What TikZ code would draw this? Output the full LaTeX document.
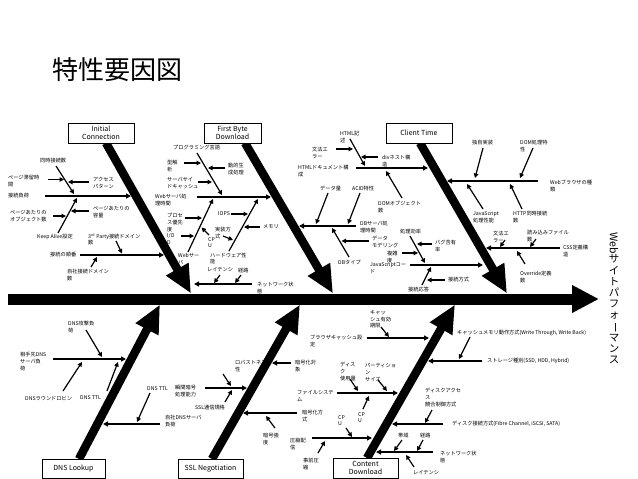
\documentclass[tikz,border=0pt]{standalone}
\usepackage{fontspec}
\setmainfont{Noto Sans CJK JP}
\usepackage{graphicx}
\usetikzlibrary{arrows.meta}
\begin{document}
\begin{tikzpicture}[x=1pt,y=-1pt,
  lbl/.style={font=\fontsize{5.2}{6.8}\selectfont, inner sep=0pt, align=left, anchor=north west},
  lblw/.style={lbl, anchor=west},
  hbox/.style={draw, fill=white, line width=0.9pt, minimum height=20pt, inner sep=1pt, font=\fontsize{7}{8.4}\selectfont, align=center},
  bone/.style={line width=8.5pt, -{Triangle[length=28pt,width=24pt]}},
  sub/.style={line width=1.8pt, -{Triangle[length=5pt,width=5pt]}},
  arr/.style={line width=1.2pt, -{Triangle[length=4.5pt,width=4.5pt]}},
]
\useasboundingbox (0,0) rectangle (638,479);
\fill[white] (0,0) rectangle (638,479);

% title
\node[font=\fontsize{26}{30}\selectfont, anchor=west, inner sep=0pt] (title) at (52,70) {特性要因図};

% spine
\coordinate (sp0) at (8,299); \coordinate (spTip) at (599,299);
\draw[line width=11pt, -{Triangle[length=27pt,width=26pt]}] (sp0) -- (spTip);
\node[font=\fontsize{10.5}{11.2}\selectfont, align=center, inner sep=0pt] (perf) at (614,298)
  {\rotatebox[origin=c]{-90}{Web}\\サ\\イ\\ト\\パ\\フ\\ォ\\\rotatebox[origin=c]{-90}{ー}\\マ\\ン\\ス};

% main bones
\coordinate (icTop) at (106,143); \coordinate (icTip) at (191,293.5);
\coordinate (fbTop) at (245,143); \coordinate (fbTip) at (333,293.5);
\coordinate (ctTop) at (420,143); \coordinate (ctTip) at (507,293.5);
\coordinate (dnsBot) at (79,459); \coordinate (dnsTip) at (160,304.5);
\coordinate (sslBot) at (212,459); \coordinate (sslTip) at (300,304.5);
\coordinate (cdBot) at (367,458); \coordinate (cdTip) at (455,304.5);
\draw[bone] (icTop) -- (icTip);
\draw[bone] (fbTop) -- (fbTip);
\draw[bone] (ctTop) -- (ctTip);
\draw[bone] (dnsBot) -- (dnsTip);
\draw[bone] (sslBot) -- (sslTip);
\draw[bone] (cdBot) -- (cdTip);

% category boxes
\node[hbox, minimum width=66pt] (ic) at (101,133) {Initial\\Connection};
\node[hbox, minimum width=57pt] (fb) at (232.5,133) {First Byte\\Download};
\node[hbox, minimum width=66pt] (ct) at (419,133) {Client Time};
\node[hbox, minimum width=63pt, minimum height=19pt] (dns) at (73.5,468.5) {DNS Lookup};
\node[hbox, minimum width=65pt, minimum height=19pt] (ssl) at (210.5,468.5) {SSL Negotiation};
\node[hbox, minimum width=65pt, minimum height=20pt] (cd) at (365.5,468) {Content\\Download};

% ===== Initial Connection =====
\node[lblw] (lsf) at (8,196) {接続負荷};
\coordinate (h1s) at (45,196); \coordinate (h1e) at (131,196);
\draw[sub] (h1s) -- (h1e);
\node[lbl] (ldj) at (40,158) {同時接続数};
\coordinate (a1s) at (56,166); \coordinate (a1e) at (74,194);
\draw[arr] (a1s) -- (a1e);
\node[lbl] (lpt) at (8,175) {ページ滞留時\\間};
\coordinate (a2s) at (48,179.5); \coordinate (a2e) at (64,179.5);
\draw[arr] (a2s) -- (a2e);
\node[lbl] (lap) at (93,177) {アクセス\\パターン};
\coordinate (a3s) at (89,182); \coordinate (a3e) at (68,182);
\draw[arr] (a3s) -- (a3e);
\node[lblw] (lka) at (37,237) {Keep Alive設定};
\coordinate (a4s) at (58,233); \coordinate (a4e) at (77,198);
\draw[arr] (a4s) -- (a4e);
\node[lbl] (lpo) at (10,210) {ページあたりの\\オブジェクト数};
\coordinate (a5s) at (53,216); \coordinate (a5e) at (66,216);
\draw[arr] (a5s) -- (a5e);
\node[lbl] (lpv) at (93,206) {ページあたりの\\容量};
\coordinate (a6s) at (89,211); \coordinate (a6e) at (71,211);
\draw[arr] (a6s) -- (a6e);
\node[lblw] (ljb) at (50,255) {接続の順番};
\coordinate (h2s) at (80,255); \coordinate (h2e) at (164,255);
\draw[sub] (h2s) -- (h2e);
\node[lbl] (l3p) at (88,233) {3\textsuperscript{rd} Party接続ドメイン\\数};
\coordinate (a7s) at (116,241); \coordinate (a7e) at (122,253.5);
\draw[arr] (a7s) -- (a7e);
\node[lbl] (ljs) at (67,269) {自社接続ドメイン\\数};
\coordinate (a8s) at (91,267); \coordinate (a8e) at (97,257);
\draw[arr] (a8s) -- (a8e);

% ===== First Byte Download =====
\node[lbl] (lws) at (155,194) {Webサーバ処\\理時間};
\coordinate (h3s) at (197,197); \coordinate (h3e) at (271,197);
\draw[sub] (h3s) -- (h3e);
\node[lbl] (lpl) at (173,145) {プログラミング言語};
\coordinate (g1s) at (197,153); \coordinate (g1e) at (222,195);
\draw[arr] (g1s) -- (g1e);
\node[lbl] (lkk) at (167,160) {型解\\析};
\coordinate (a9s) at (184,163); \coordinate (a9e) at (201,163);
\draw[arr] (a9s) -- (a9e);
\node[lbl] (ldt) at (228,163) {動的生\\成処理};
\coordinate (a10s) at (225,168); \coordinate (a10e) at (208,168);
\draw[arr] (a10s) -- (a10e);
\node[lbl] (lsc) at (167,177) {サーバサイ\\ドキャッシュ};
\coordinate (a11s) at (198,182); \coordinate (a11e) at (212,182);
\draw[arr] (a11s) -- (a11e);

\coordinate (d1s) at (188,252); \coordinate (d1e) at (213,199);
\draw[arr] (d1s) -- (d1e);
\node[lbl] (lws2) at (178,253) {Webサー\\バ};
\node[lbl] (lpp) at (167,213) {プロセ\\ス優先\\度};
\coordinate (a12s) at (185,218); \coordinate (a12e) at (202,218);
\draw[arr] (a12s) -- (a12e);
\node[lbl] (lio) at (167,233) {I/O\\D};
\coordinate (a13s) at (181,236); \coordinate (a13e) at (194,236);
\draw[arr] (a13s) -- (a13e);
\node[lbl] (lcpu1) at (208,237) {CP\\U};
\coordinate (a14s) at (209,235); \coordinate (a14e) at (201.5,227.5);
\draw[arr] (a14s) -- (a14e);

\coordinate (d2s) at (229,251); \coordinate (d2e) at (258,199);
\draw[arr] (d2s) -- (d2e);
\node[lbl, font=\fontsize{5.2}{6.2}\selectfont] (lhw) at (210,253) {ハードウェア性\\能};
\node[lblw] (liops) at (218,214) {IOPS};
\coordinate (a15s) at (231,214); \coordinate (a15e) at (248,214);
\draw[arr] (a15s) -- (a15e);
\node[lblw] (lmem) at (263,227) {メモリ};
\coordinate (a16s) at (260,227); \coordinate (a16e) at (244,227);
\draw[arr] (a16s) -- (a16e);
\node[lbl] (ljh) at (215,227) {実装方\\式};
\coordinate (a17s) at (223,236); \coordinate (a17e) at (233,240);
\draw[arr] (a17s) -- (a17e);

\node[lbl] (lnw1) at (257,282) {ネットワーク状\\態};
\coordinate (h4s) at (252,284); \coordinate (h4e) at (194,284);
\draw[sub] (h4s) -- (h4e);
\node[lbl] (llt1) at (207,267.5) {レイテンシ};
\coordinate (a18s) at (220,275); \coordinate (a18e) at (214,283);
\draw[arr] (a18s) -- (a18e);
\node[lbl] (lkr1) at (238,267.5) {経路};
\coordinate (a19s) at (241,275); \coordinate (a19e) at (235,283);
\draw[arr] (a19s) -- (a19e);

\node[lbl] (ldb) at (360,221) {DBサーバ処\\理時間};
\coordinate (h5s) at (356,226); \coordinate (h5e) at (299,226);
\draw[sub] (h5s) -- (h5e);
\node[lbl] (ldq) at (320,186) {データ量};
\coordinate (a20s) at (328,193); \coordinate (a20e) at (316,224);
\draw[arr] (a20s) -- (a20e);
\node[lbl] (lacid) at (352,186) {ACID特性};
\coordinate (a21s) at (360,193); \coordinate (a21e) at (348,224);
\draw[arr] (a21s) -- (a21e);
\node[lbl] (ldbt) at (338,260) {DBタイプ};
\coordinate (a22s) at (349,257); \coordinate (a22e) at (332,228);
\draw[arr] (a22s) -- (a22e);
\node[lbl] (ldm) at (372,236) {データ\\モデリング};
\coordinate (a23s) at (369,241); \coordinate (a23e) at (341.5,241);
\draw[arr] (a23s) -- (a23e);

% ===== Client Time =====
\node[lbl] (lhtml) at (298,165) {HTMLドキュメント構\\成};
\coordinate (h6s) at (356,168); \coordinate (h6e) at (428,168);
\draw[sub] (h6s) -- (h6e);
\node[lbl] (lhk) at (340,131) {HTML記\\述};
\coordinate (a24s) at (350,139); \coordinate (a24e) at (365,166);
\draw[arr] (a24s) -- (a24e);
\node[lbl] (lbp1) at (312,147) {文法エ\\ラー};
\coordinate (a25s) at (336,149); \coordinate (a25e) at (353,149);
\draw[arr] (a25s) -- (a25e);
\node[lbl] (ldiv) at (382,155) {divネスト構\\造};
\coordinate (a26s) at (378,157); \coordinate (a26e) at (361,157);
\draw[arr] (a26s) -- (a26e);
\node[lbl] (ldom) at (378,201) {DOMオブジェクト\\数};
\coordinate (a27s) at (402,198); \coordinate (a27e) at (386,171);
\draw[arr] (a27s) -- (a27e);

\node[lbl] (ljsc) at (370,262) {JavaScriptコー\\ド};
\coordinate (h7s) at (410,265); \coordinate (h7e) at (483,265);
\draw[sub] (h7s) -- (h7e);
\node[lbl] (lsk) at (400,229) {処理効率};
\coordinate (a28s) at (410,236); \coordinate (a28e) at (425,263);
\draw[arr] (a28s) -- (a28e);
\node[lbl] (lbug) at (435,240) {バグ含有\\率};
\coordinate (a29s) at (432,244); \coordinate (a29e) at (417,244);
\draw[arr] (a29s) -- (a29e);
\node[lbl] (lfz) at (387,251) {複雑\\度};
\coordinate (a30s) at (402,253); \coordinate (a30e) at (418,253);
\draw[arr] (a30s) -- (a30e);
\node[lbl] (lso) at (408,287) {接続応答};
\coordinate (a31s) at (422,285); \coordinate (a31e) at (431,267);
\draw[arr] (a31s) -- (a31e);
\node[lbl] (lsh) at (448,277) {接続方式};
\coordinate (a32s) at (445,280); \coordinate (a32e) at (427,280);
\draw[arr] (a32s) -- (a32e);

\node[lbl] (lwb) at (550,180) {Webブラウザの種\\類};
\coordinate (h8s) at (538,181); \coordinate (h8e) at (447,181);
\draw[sub] (h8s) -- (h8e);
\node[lbl] (ldk) at (472,140) {独自実装};
\coordinate (a33s) at (483,148); \coordinate (a33e) at (475,178);
\draw[arr] (a33s) -- (a33e);
\node[lbl] (ldomp) at (520,140) {DOM処理特\\性};
\coordinate (a34s) at (533,148); \coordinate (a34e) at (520,178);
\draw[arr] (a34s) -- (a34e);
\node[lbl] (ljsp) at (473,211) {JavaScript\\処理性能};
\coordinate (a35s) at (483,209); \coordinate (a35e) at (467,184);
\draw[arr] (a35s) -- (a35e);
\node[lbl] (lhttp) at (513,211) {HTTP同時接続\\数};
\coordinate (a36s) at (522,209); \coordinate (a36e) at (510,184);
\draw[arr] (a36s) -- (a36e);

\node[lbl] (lcss) at (563,245) {CSS定義構\\造};
\coordinate (h9s) at (560,248); \coordinate (h9e) at (486,248);
\draw[sub] (h9s) -- (h9e);
\node[lbl] (lbp2) at (493,231) {文法エ\\ラー};
\coordinate (a37s) at (505,240); \coordinate (a37e) at (500,247);
\draw[arr] (a37s) -- (a37e);
\node[lbl] (lyf) at (527,230) {読み込みファイル\\数};
\coordinate (a38s) at (536,239); \coordinate (a38e) at (530,247);
\draw[arr] (a38s) -- (a38e);
\node[lbl] (lod) at (520,271) {Override定義\\数};
\coordinate (a39s) at (525,264); \coordinate (a39e) at (517,251);
\draw[arr] (a39s) -- (a39e);

% ===== DNS Lookup =====
\node[lbl] (laite) at (20,352) {相手先DNS\\サーバ負\\荷};
\coordinate (h10s) at (53,359); \coordinate (h10e) at (126,359);
\draw[sub] (h10s) -- (h10e);
\node[lbl] (ldnsa) at (68,321) {DNS攻撃負\\荷};
\coordinate (a40s) at (86,330); \coordinate (a40e) at (102,357);
\draw[arr] (a40s) -- (a40e);
\node[lblw] (ldrr) at (25,398) {DNSラウンドロビン};
\coordinate (a41s) at (63,391); \coordinate (a41e) at (82,362);
\draw[arr] (a41s) -- (a41e);
\node[lblw] (lttl1) at (80,398) {DNS TTL};
\coordinate (a42s) at (107,391); \coordinate (a42e) at (118,362);
\draw[arr] (a42s) -- (a42e);
\node[lblw] (lttl2) at (147,389) {DNS TTL};
\coordinate (a43s) at (150,393); \coordinate (a43e) at (137,422);
\draw[arr] (a43s) -- (a43e);
\node[lbl] (ljdns) at (165,415) {自社DNSサーバ\\負荷};
\coordinate (h11s) at (160,424); \coordinate (h11e) at (103,424);
\draw[sub] (h11s) -- (h11e);

% ===== SSL Negotiation =====
\node[lbl] (lsk2) at (175,385) {瞬間暗号\\処理能力};
\coordinate (h12s) at (205,388); \coordinate (h12e) at (247,388);
\draw[sub] (h12s) -- (h12e);
\node[lbl] (lrb) at (235,360) {ロバストネス\\性};
\coordinate (a44s) at (223,374); \coordinate (a44e) at (231,386);
\draw[arr] (a44s) -- (a44e);
\node[lbl] (lssl) at (195,405) {SSL通信規格};
\coordinate (a45s) at (225,402); \coordinate (a45e) at (232,390);
\draw[arr] (a45s) -- (a45e);
\node[lbl] (lango) at (295,360) {暗号化対\\象};
\coordinate (a46s) at (291,363); \coordinate (a46e) at (272,363);
\draw[sub] (a46s) -- (a46e);
\node[lbl] (langh) at (302,410) {暗号化方\\式};
\coordinate (h13s) at (297,413); \coordinate (h13e) at (243,413);
\draw[sub] (h13s) -- (h13e);
\node[lbl] (langk) at (263,433) {暗号強\\度};
\coordinate (a47s) at (275,428); \coordinate (a47e) at (266,416);
\draw[arr] (a47s) -- (a47e);

% ===== Content Download =====
\node[lbl] (lbc) at (310,335) {ブラウザキャッシュ設\\定};
\coordinate (h14s) at (367,338); \coordinate (h14e) at (429,338);
\draw[sub] (h14s) -- (h14e);
\node[lbl] (lce) at (370,310) {キャッ\\シュ有効\\期限};
\coordinate (a48s) at (381,327); \coordinate (a48e) at (389,337);
\draw[arr] (a48s) -- (a48e);
\node[lblw] (lst) at (487,361) {ストレージ種別(SSD, HDD, Hybrid)};
\coordinate (h15s) at (482,361); \coordinate (h15e) at (428,361);
\draw[sub] (h15s) -- (h15e);
\node[lblw] (lcm) at (457,333) {キャッシュメモリ動作方式(Write Through, Write Back)};
\coordinate (a49s) at (470,337); \coordinate (a49e) at (459,359);
\draw[arr] (a49s) -- (a49e);
\node[lbl] (lfs) at (297,390) {ファイルシステ\\ム};
\coordinate (h16s) at (337,393); \coordinate (h16e) at (398,393);
\draw[sub] (h16s) -- (h16e);
\node[lbl] (ldu) at (340,362) {ディス\\ク\\使用量};
\coordinate (a50s) at (350,379); \coordinate (a50e) at (358,391);
\draw[arr] (a50s) -- (a50e);
\node[lbl] (lps) at (365,363) {パーティショ\\ン\\サイズ};
\coordinate (a51s) at (378,380); \coordinate (a51e) at (387,391);
\draw[arr] (a51s) -- (a51e);
\node[lbl] (lcpu2) at (358,412) {CP\\U};
\coordinate (a52s) at (363,409); \coordinate (a52e) at (369,396);
\draw[arr] (a52s) -- (a52e);
\node[lbl] (lah) at (290,438) {圧縮配\\信};
\coordinate (h17s) at (312,438); \coordinate (h17e) at (372,438);
\draw[sub] (h17s) -- (h17e);
\node[lbl] (lcpu3) at (338,415) {CP\\U};
\coordinate (a53s) at (346,428); \coordinate (a53e) at (352,437);
\draw[arr] (a53s) -- (a53e);
\node[lbl] (ljz) at (303,458) {事前圧\\縮};
\coordinate (a54s) at (318,453); \coordinate (a54e) at (325,441);
\draw[arr] (a54s) -- (a54e);
\node[lbl] (lda) at (425,388) {ディスクアクセ\\ス\\競合制御方式};
\coordinate (a55s) at (432,410); \coordinate (a55e) at (425,423);
\draw[arr] (a55s) -- (a55e);
\node[lblw] (ldc) at (452,424) {ディスク接続方式(Fibre Channel, iSCSI, SATA)};
\coordinate (h18s) at (443,424); \coordinate (h18e) at (392,424);
\draw[sub] (h18s) -- (h18e);
\node[lbl] (lnw2) at (440,451) {ネットワーク状\\態};
\coordinate (h19s) at (433,452); \coordinate (h19e) at (376,452);
\draw[sub] (h19s) -- (h19e);
\node[lbl] (lbw) at (398,433) {帯域};
\coordinate (a56s) at (402,440); \coordinate (a56e) at (394,451);
\draw[arr] (a56s) -- (a56e);
\node[lbl] (lkr2) at (420,433) {経路};
\coordinate (a57s) at (423,440); \coordinate (a57e) at (417,451);
\draw[arr] (a57s) -- (a57e);
\node[lbl] (llt2) at (413,470) {レイテンシ};
\coordinate (a58s) at (414,467); \coordinate (a58e) at (406,455);
\draw[arr] (a58s) -- (a58e);
\end{tikzpicture}
\end{document}
